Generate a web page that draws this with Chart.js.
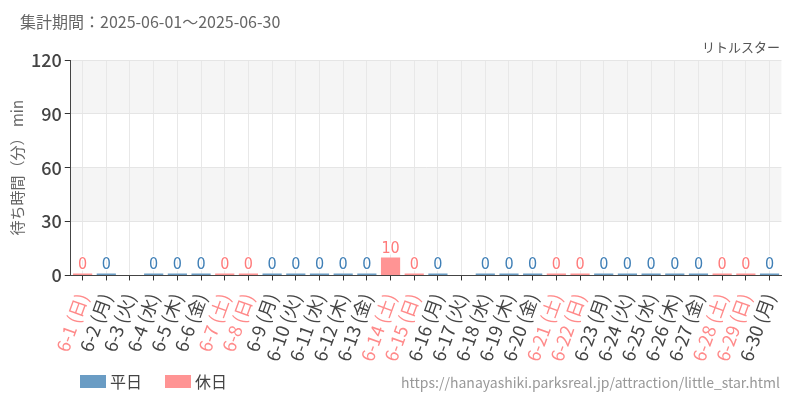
<!DOCTYPE html>
<html><head><meta charset="utf-8">
<script src="https://cdn.jsdelivr.net/npm/chart.js@4/dist/chart.umd.min.js"></script>
<style>html,body{margin:0;padding:0;background:#fff}#wrap{width:800px;height:400px}</style>
</head><body><div id="wrap"><canvas id="c"></canvas></div>
<script>
const dates = ["6-1","6-2","6-3","6-4","6-5","6-6","6-7","6-8","6-9","6-10","6-11","6-12","6-13","6-14","6-15","6-16","6-17","6-18","6-19","6-20","6-21","6-22","6-23","6-24","6-25","6-26","6-27","6-28","6-29","6-30"];
const weekdays = ["日","月","火","水","木","金","土","日","月","火","水","木","金","土","日","月","火","水","木","金","土","日","月","火","水","木","金","土","日","月"];
const holidayFlags = [1,0,0,0,0,0,1,1,0,0,0,0,0,1,1,0,0,0,0,0,1,1,0,0,0,0,0,1,1,0];
const waitTimes = [0,0,null,0,0,0,0,0,0,0,0,0,0,10,0,0,null,0,0,0,0,0,0,0,0,0,0,0,0,0];
const yTicks = [0,30,60,90,120];
const titleText = "集計期間：2025-06-01～2025-06-30";
const subtitleText = "リトルスター";
const urlText = "https://hanayashiki.parksreal.jp/attraction/little_star.html";
const seriesNames = ["平日","休日"];
const colors = ["#6a9cc4","#ff9494"];
const labelColors = ["#3f7fb6","#ff7a7a"];

const labels = dates.map((d,i)=>d+" ("+weekdays[i]+")");
const weekdayData = waitTimes.map((v,i)=>holidayFlags[i]?null:v);
const holidayData = waitTimes.map((v,i)=>holidayFlags[i]?v:null);
const FONT = "'Noto Sans CJK JP','Noto Sans',sans-serif";

const bands = {
  id:'bands',
  beforeDraw(chart){
    const {ctx, chartArea:a, scales:{y}} = chart;
    ctx.save();
    ctx.fillStyle = '#f5f5f5';
    [[90,120],[30,60]].forEach(([lo,hi])=>{
      const t=y.getPixelForValue(hi), b=y.getPixelForValue(lo);
      ctx.fillRect(a.left,t,a.right-a.left,b-t);
    });
    ctx.restore();
  }
};

const deco = {
  id:'deco',
  afterDatasetsDraw(chart){
    const ctx = chart.ctx;
    ctx.save();
    ctx.textAlign='center'; ctx.textBaseline='bottom';
    ctx.font = "16px 'DejaVu Sans Condensed','DejaVu Sans',sans-serif";
    chart.data.datasets.forEach((ds,di)=>{
      const meta = chart.getDatasetMeta(di);
      meta.data.forEach((el,i)=>{
        const v = ds.data[i];
        if(v===null||v===undefined) return;
        ctx.lineWidth=3; ctx.strokeStyle='#fff';
        ctx.strokeText(String(v), el.x, el.y-1);
        ctx.fillStyle = labelColors[di];
        ctx.fillText(String(v), el.x, el.y-1);
      });
    });
    ctx.restore();
  },
  afterDraw(chart){
    const ctx = chart.ctx;
    ctx.save();
    ctx.textBaseline='middle';
    ctx.fillStyle='#666'; ctx.textAlign='left';
    ctx.font = "16px "+FONT;
    ctx.fillText(titleText, 20, 22);
    ctx.fillStyle='#555'; ctx.textAlign='right';
    ctx.font = "13px "+FONT;
    ctx.fillText(subtitleText, 780, 47);
    ctx.fillStyle='#999'; ctx.textAlign='right';
    ctx.font = "14px "+FONT;
    ctx.fillText(urlText, 780, 383);
    let x = 80;
    ctx.textAlign='left';
    ctx.font = "16px "+FONT;
    chart.data.datasets.forEach((ds,di)=>{
      ctx.fillStyle = ds.backgroundColor;
      ctx.fillRect(x, 375, 26, 13);
      ctx.fillStyle = '#444';
      ctx.fillText(ds.label, x+30, 382);
      x += 85;
    });
    ctx.restore();
  }
};

new Chart(document.getElementById('c'), {
  type:'bar',
  data:{
    labels,
    datasets:[
      {label:seriesNames[0], data:weekdayData, backgroundColor:colors[0], minBarLength:2},
      {label:seriesNames[1], data:holidayData, backgroundColor:colors[1], minBarLength:2}
    ]
  },
  options:{
    responsive:true, maintainAspectRatio:false, animation:false,
    layout:{padding:{top:60,right:10,bottom:26,left:8}},
    plugins:{legend:{display:false}, tooltip:{enabled:false}, title:{display:false}},
    datasets:{bar:{categoryPercentage:0.9, barPercentage:0.9, grouped:false}},
    scales:{
      x:{
        grid:{offset:false, color:'#e8e8e8', tickColor:'#333', tickLength:5},
        border:{color:'#444'},
        ticks:{
          minRotation:70, maxRotation:70, autoSkip:false, padding:10,
          font:{size:18, family:FONT},
          color:(c)=>holidayFlags[c.index]?'#ff8a8a':'#444'
        }
      },
      y:{
        min:0, max:120,
        afterBuildTicks(s){ s.ticks = yTicks.map(v=>({value:v})); },
        grid:{color:'#e5e5e5', tickColor:'#333', tickLength:6},
        border:{color:'#444'},
        ticks:{font:{size:18, family:FONT, weight:'500'}, color:'#444', padding:3},
        title:{display:true, text:'待ち時間（分） min', color:'#666', font:{size:15, family:FONT}, padding:{top:0,bottom:2}}
      }
    }
  },
  plugins:[bands, deco]
});
</script></body></html>
